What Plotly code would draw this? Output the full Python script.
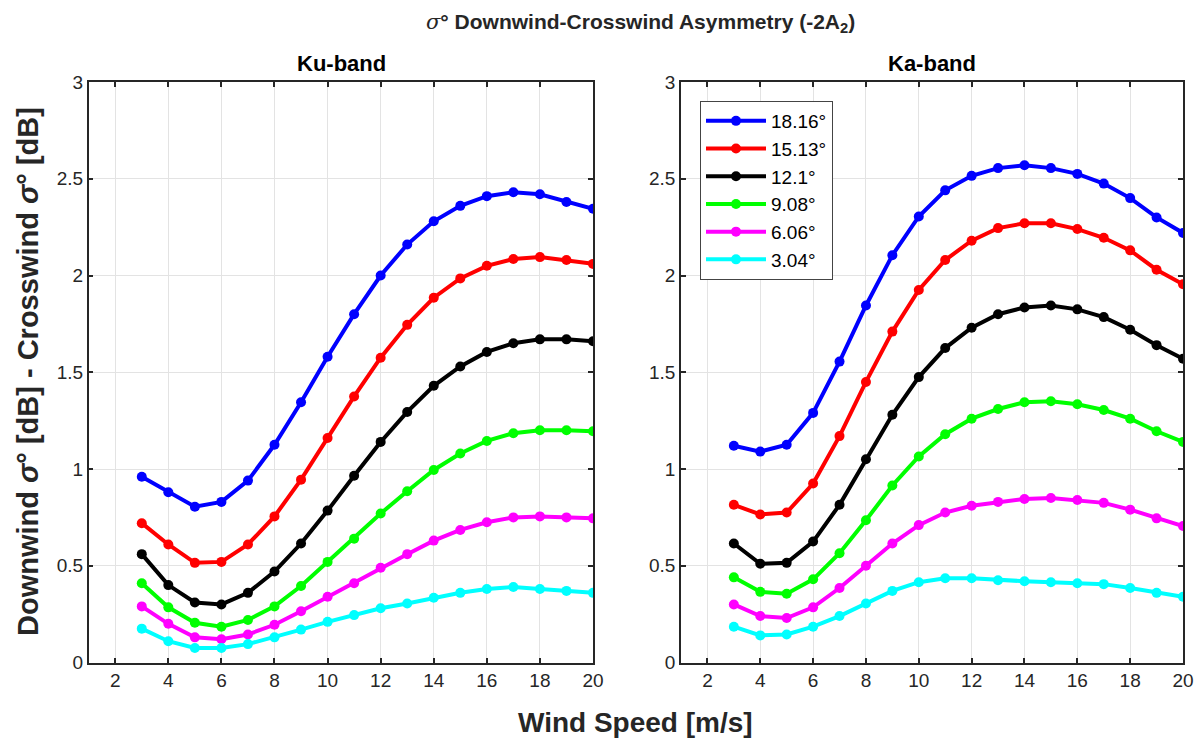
import plotly.graph_objects as go

wind = list(range(3, 21))
angles = ["18.16°", "15.13°", "12.1°", "9.08°", "6.06°", "3.04°"]
colors = ["#0000ff", "#ff0000", "#000000", "#00ff00", "#ff00ff", "#00ffff"]

ku_1816 = [0.96, 0.88, 0.805, 0.83, 0.94, 1.125, 1.345, 1.58, 1.80, 2.00, 2.16, 2.28, 2.36, 2.41, 2.43, 2.42, 2.38, 2.345]
ku_1513 = [0.72, 0.61, 0.515, 0.52, 0.61, 0.755, 0.945, 1.16, 1.375, 1.575, 1.745, 1.885, 1.985, 2.05, 2.085, 2.095, 2.08, 2.06]
ku_1210 = [0.56, 0.40, 0.31, 0.30, 0.36, 0.47, 0.615, 0.785, 0.965, 1.14, 1.295, 1.43, 1.53, 1.605, 1.65, 1.67, 1.67, 1.66]
ku_0908 = [0.41, 0.285, 0.205, 0.185, 0.22, 0.29, 0.395, 0.52, 0.64, 0.77, 0.885, 0.995, 1.08, 1.145, 1.185, 1.20, 1.20, 1.195]
ku_0606 = [0.29, 0.20, 0.13, 0.12, 0.145, 0.195, 0.265, 0.34, 0.41, 0.49, 0.56, 0.63, 0.685, 0.725, 0.75, 0.755, 0.75, 0.745]
ku_0304 = [0.175, 0.11, 0.075, 0.075, 0.095, 0.13, 0.17, 0.21, 0.245, 0.28, 0.305, 0.335, 0.36, 0.38, 0.39, 0.38, 0.37, 0.36]

ka_1816 = [1.12, 1.09, 1.125, 1.29, 1.555, 1.845, 2.105, 2.305, 2.44, 2.515, 2.555, 2.57, 2.555, 2.525, 2.475, 2.40, 2.30, 2.22]
ka_1513 = [0.815, 0.765, 0.775, 0.925, 1.17, 1.45, 1.71, 1.925, 2.08, 2.18, 2.245, 2.27, 2.27, 2.24, 2.195, 2.13, 2.03, 1.955]
ka_1210 = [0.615, 0.51, 0.515, 0.625, 0.815, 1.05, 1.28, 1.475, 1.625, 1.73, 1.80, 1.835, 1.845, 1.825, 1.785, 1.72, 1.64, 1.57]
ka_0908 = [0.44, 0.365, 0.355, 0.43, 0.565, 0.735, 0.915, 1.065, 1.18, 1.26, 1.31, 1.345, 1.35, 1.335, 1.305, 1.26, 1.195, 1.14]
ka_0606 = [0.30, 0.24, 0.23, 0.285, 0.385, 0.50, 0.615, 0.71, 0.775, 0.81, 0.83, 0.845, 0.85, 0.84, 0.825, 0.79, 0.745, 0.705]
ka_0304 = [0.185, 0.14, 0.145, 0.185, 0.24, 0.305, 0.37, 0.415, 0.435, 0.435, 0.425, 0.42, 0.415, 0.41, 0.405, 0.385, 0.36, 0.34]

ku = [ku_1816, ku_1513, ku_1210, ku_0908, ku_0606, ku_0304]
ka = [ka_1816, ka_1513, ka_1210, ka_0908, ka_0606, ka_0304]

x_ticks = list(range(2, 21, 2))
y_ticks = [0, 0.5, 1, 1.5, 2, 2.5, 3]
y_ticklabels = ["0", "0.5", "1", "1.5", "2", "2.5", "3"]

# page body has an 8px margin: figure is drawn offset by 8px
OFF = 8
W, H = 1202 - OFF, 746 - OFF


def px(x):
    return (x - OFF) / W


def py(y):
    return (H - (y - OFF)) / H


FONT = "Liberation Sans, Arial, Helvetica"
fig = go.Figure()

for i in range(6):
    fig.add_trace(go.Scatter(x=wind, y=ku[i], mode="lines+markers", name=angles[i],
                             line=dict(color=colors[i], width=4),
                             marker=dict(color=colors[i], size=10, symbol="circle"),
                             showlegend=False, xaxis="x", yaxis="y"))
for i in range(6):
    fig.add_trace(go.Scatter(x=wind, y=ka[i], mode="lines+markers", name=angles[i],
                             line=dict(color=colors[i], width=4),
                             marker=dict(color=colors[i], size=10, symbol="circle"),
                             showlegend=True, xaxis="x2", yaxis="y2"))

ax_common = dict(showline=True, linecolor="#262626", linewidth=1.5, mirror="ticks",
                 ticks="inside", ticklen=5, tickcolor="#262626", tickwidth=1.5,
                 showgrid=True, gridcolor="#e3e3e3", gridwidth=1, zeroline=False,
                 tickfont=dict(family=FONT, size=19, color="#262626"))

ydom = [py(662.5), py(82)]
fig.update_layout(
    width=W, height=H,
    margin=dict(l=0, r=0, t=0, b=0, pad=0, autoexpand=False),
    paper_bgcolor="white", plot_bgcolor="white",
    xaxis=dict(domain=[px(88.7), px(593)], range=[1, 20], tickvals=x_ticks, anchor="y", **ax_common),
    yaxis=dict(domain=ydom, range=[0, 3], tickvals=y_ticks, ticktext=y_ticklabels, anchor="x", **ax_common),
    xaxis2=dict(domain=[px(681), px(1183)], range=[1, 20], tickvals=x_ticks, anchor="y2", **ax_common),
    yaxis2=dict(domain=ydom, range=[0, 3], tickvals=y_ticks, ticktext=y_ticklabels, anchor="x2", **ax_common),
    legend=dict(x=px(700), y=py(101), xanchor="left", yanchor="top",
                bgcolor="white", bordercolor="#444444", borderwidth=1,
                font=dict(family=FONT, size=19, color="#000000"),
                itemwidth=60, tracegroupgap=0),
    showlegend=True,
)

ann = []
common_a = dict(xref="paper", yref="paper", showarrow=False, xanchor="center", yanchor="middle")
ann.append(dict(text="<span style='font-family:DejaVu Serif;font-weight:normal'><i>σ</i></span>° Downwind-Crosswind Asymmetry (-2A<sub>2</sub>)",
                x=px(640), y=py(23),
                font=dict(family=FONT, size=21, color="#262626", weight="bold"), **common_a))
ann.append(dict(text="Ku-band", x=px(341), y=py(64),
                font=dict(family=FONT, size=22, color="#000000", weight="bold"), **common_a))
ann.append(dict(text="Ka-band", x=px(932), y=py(64),
                font=dict(family=FONT, size=22, color="#000000", weight="bold"), **common_a))
ann.append(dict(text="Wind Speed [m/s]", x=px(635), y=py(722),
                font=dict(family=FONT, size=28, color="#262626", weight="bold"), **common_a))
ann.append(dict(text="Downwind <i>σ</i>° [dB] - Crosswind <i>σ</i>° [dB]", x=px(28), y=py(372),
                textangle=-90,
                font=dict(family=FONT, size=29, color="#262626", weight="bold"), **common_a))
fig.update_layout(annotations=ann)

fig.write_html("out.html")
